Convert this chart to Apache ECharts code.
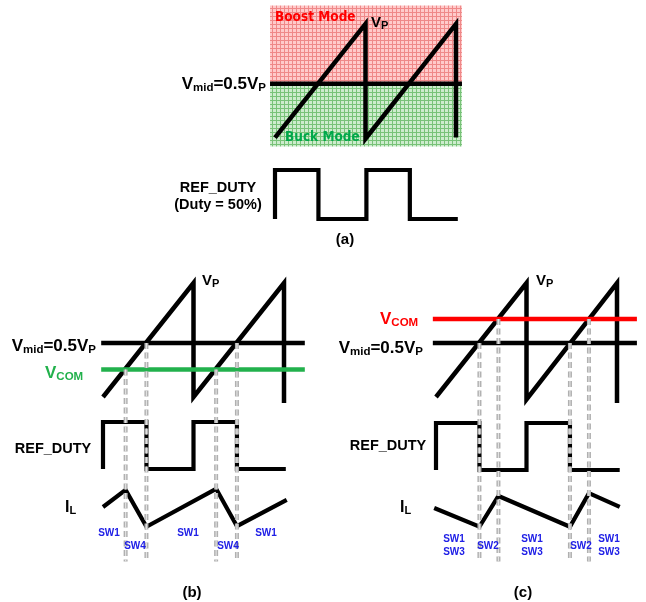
<!DOCTYPE html>
<html>
<head>
<meta charset="utf-8">
<script src="https://cdn.jsdelivr.net/npm/echarts@6/dist/echarts.min.js"></script>
<style>
  html, body { margin: 0; padding: 0; background: #ffffff; }
  #chart { width: 646px; height: 602px; }
</style>
</head>
<body>
<div id="chart"></div>
<script>
// ---- waveform data (time in ramp periods, voltages normalised to VP = 1) ----
const sawTimes = [0, 1, 1, 2, 2];
const sawA = [0.05, 1, 0.04, 1, 0.05];
const sawB = [0.05, 1, 0.05, 1, 0.0];
const sawC = [0.05, 1, 0.03, 1, 0.0];

const VMID = 0.5;          // Vmid = 0.5 VP
const VCOM_B = 0.28;       // VCOM below Vmid (buck side)
const VCOM_C = 0.70;       // VCOM above Vmid (boost side)

// horizontal reference lines: [start, end] time
const levelSpanA = [-0.055, 2.066];
const levelSpanB = [-0.02, 2.23];
const levelSpanC = [-0.035, 2.22];

// mode regions of the (a) ramp: [low, high] voltage
const boostBand = [VMID, 1.155];
const buckBand = [-0.025, VMID];

// REF_DUTY edges: rise, fall, rise, fall, end
const dutyEdgesA = [0, 0.48, 1.01, 1.49, 2.02];
const dutyEdgesB = [0, 0.48, 1.0, 1.48, 2.02];
const dutyEdgesC = [0, 0.48, 1.0, 1.48, 2.03];

// switching instants (comparator crossings)
const switchTimesB = [0.25, 0.48, 1.25, 1.48];
const switchLevelsB = [VCOM_B, VMID, VCOM_B, VMID];
const switchTimesC = [0.48, 0.69, 1.48, 1.69];
const switchLevelsC = [VMID, VCOM_C, VMID, VCOM_C];

// inductor current
const ilTimesB = [0, 0.25, 0.48, 1.25, 1.48, 2.03];
const ilB = [0.51, 0.82, 0.15, 0.84, 0.16, 0.64];
const ilTimesC = [-0.02, 0.48, 0.69, 1.48, 1.69, 2.03];
const ilC = [0.49, 0.15, 0.71, 0.15, 0.76, 0.51];

// switch-state captions
const swTextB = ['SW1', 'SW4', 'SW1', 'SW4', 'SW1'];
const swTextC = ['SW1\nSW3', 'SW2', 'SW1\nSW3', 'SW2', 'SW1\nSW3'];

// ---- layout ----
const P = 90.5;   // px per period
const U = 120;    // px per volt unit on ramp plots
const X_MIN = -0.1, X_MAX = 2.3;
const SAW_MIN = -1.35, SAW_MAX = 1.2;
const GUIDE_BOTTOM = -1.32;

const SANS = "'Liberation Sans', Arial, sans-serif";
const TAHOMA = "'DejaVu Sans Condensed', 'DejaVu Sans', sans-serif";
const BLACK = '#000000';
const GREEN = '#22b14c';
const RED = '#ff0000';
const BLUE = '#2020e6';

function gridAt(x0, top, height) {
  return { left: x0 + X_MIN * P, top: top, width: (X_MAX - X_MIN) * P, height: height };
}

const grids = [
  gridAt(275, 143 - SAW_MAX * U, (SAW_MAX - SAW_MIN) * U), // 0 (a) ramp
  gridAt(275, 170, 49),                                   // 1 (a) duty
  gridAt(103, 403 - SAW_MAX * U, (SAW_MAX - SAW_MIN) * U), // 2 (b) ramp
  gridAt(103, 422, 47),                                   // 3 (b) duty
  gridAt(103, 480, 55),                                   // 4 (b) IL
  gridAt(436, 403 - SAW_MAX * U, (SAW_MAX - SAW_MIN) * U), // 5 (c) ramp
  gridAt(436, 423, 47),                                   // 6 (c) duty
  gridAt(436, 480, 55)                                    // 7 (c) IL
];
const rampGrids = [0, 2, 5];

const xAxes = grids.map((g, i) => ({
  type: 'value', gridIndex: i, min: X_MIN, max: X_MAX, show: false
}));
const yAxes = grids.map((g, i) => (rampGrids.includes(i)
  ? { type: 'value', gridIndex: i, min: SAW_MIN, max: SAW_MAX, show: false }
  : { type: 'value', gridIndex: i, min: 0, max: 1, show: false }));

function line(idx, data, color, width, extra) {
  return Object.assign({
    type: 'line', xAxisIndex: idx, yAxisIndex: idx, data: data,
    symbol: 'none', showSymbol: false, silent: true, animation: false,
    clip: false, z: 2,
    lineStyle: { color: color, width: width, cap: 'butt', join: 'miter' }
  }, extra || {});
}
const zip = (xs, ys) => xs.map((x, i) => [x, ys[i]]);
function square(e) {
  return [[e[0], 0], [e[0], 1], [e[1], 1], [e[1], 0], [e[2], 0], [e[2], 1], [e[3], 1], [e[3], 0], [e[4], 0]];
}
function level(span, v) { return [[span[0], v], [span[1], v]]; }

// graph-paper fill for the mode regions
function paper(base, ink) {
  const c = document.createElement('canvas');
  c.width = 4; c.height = 4;
  const ctx = c.getContext('2d');
  ctx.fillStyle = base; ctx.fillRect(0, 0, 4, 4);
  ctx.fillStyle = ink; ctx.fillRect(0, 0, 4, 1); ctx.fillRect(0, 0, 1, 4);
  return { image: c, repeat: 'repeat' };
}

// dashed drop lines from each comparator crossing
function guides(idx, times, levels) {
  const out = [];
  times.forEach((t, i) => {
    const d = [[t, levels[i]], [t, GUIDE_BOTTOM]];
    out.push(line(idx, d, '#b0b0b0', 4, { z: 5, lineStyle: { color: '#b0b0b0', width: 4, type: [6, 3.5], cap: 'butt' } }));
    out.push(line(idx, d, '#e2e2e2', 1.2, { z: 6, lineStyle: { color: '#e2e2e2', width: 1.2, type: [6, 3.5], cap: 'butt' } }));
  });
  return out;
}

const series = [
  // (a)
  line(0, zip(sawTimes, sawA), BLACK, 4.5, {
    markArea: {
      silent: true,
      label: { show: false },
      data: [
        [{ xAxis: levelSpanA[0], yAxis: boostBand[1], itemStyle: { color: paper('#ffcaca', '#ef8888') } },
         { xAxis: levelSpanA[1], yAxis: boostBand[0] }],
        [{ xAxis: levelSpanA[0], yAxis: buckBand[1], itemStyle: { color: paper('#cdeccd', '#78c278') } },
         { xAxis: levelSpanA[1], yAxis: buckBand[0] }]
      ]
    }
  }),
  line(0, level(levelSpanA, VMID), BLACK, 4.5),
  line(1, square(dutyEdgesA), BLACK, 4.2),
  // (b)
  line(2, zip(sawTimes, sawB), BLACK, 4.5),
  line(2, level(levelSpanB, VMID), BLACK, 4.5),
  line(2, level(levelSpanB, VCOM_B), GREEN, 4.5, { z: 3 }),
  line(3, square(dutyEdgesB), BLACK, 4.2),
  line(4, zip(ilTimesB, ilB), BLACK, 4.2),
  // (c)
  line(5, zip(sawTimes, sawC), BLACK, 4.5),
  line(5, level(levelSpanC, VMID), BLACK, 4.5),
  line(5, level(levelSpanC, VCOM_C), RED, 4.5, { z: 3 }),
  line(6, square(dutyEdgesC), BLACK, 4.2),
  line(7, zip(ilTimesC, ilC), BLACK, 4.2)
].concat(guides(2, switchTimesB, switchLevelsB), guides(5, switchTimesC, switchLevelsC));

// ---- text ----
function richText(x, y, text, main, sub, align, fill) {
  return {
    type: 'text', x: x, y: y, z: 10, silent: true,
    style: {
      text: text, align: align, verticalAlign: 'middle', fill: fill || BLACK,
      rich: {
        m: { fontSize: main, fontWeight: 'bold', fontFamily: SANS, verticalAlign: 'bottom', lineHeight: main + 1, padding: [0, 0, 1, 0], fill: fill || BLACK },
        s: { fontSize: sub, fontWeight: 'bold', fontFamily: SANS, verticalAlign: 'bottom', lineHeight: sub + 2, fill: fill || BLACK }
      }
    }
  };
}
function plain(x, y, text, size, align, fill, family, lh) {
  return {
    type: 'text', x: x, y: y, z: 10, silent: true,
    style: {
      text: text, align: align, verticalAlign: 'middle', fill: fill || BLACK,
      fontSize: size, fontWeight: 'bold', fontFamily: family || SANS,
      lineHeight: lh || size + 2
    }
  };
}
const VMID_TXT = '{m|V}{s|mid}{m|=0.5V}{s|P}';
const VP_TXT = '{m|V}{s|P}';
const VCOM_TXT = '{m|V}{s|COM}';
const IL_TXT = '{m|I}{s|L}';

const swXB = [109, 135, 188, 228, 266];
const swXC = [454, 488, 532, 581, 609];

const graphics = [
  // (a)
  plain(275, 17, 'Boost Mode', 13.5, 'left', RED, TAHOMA),
  plain(285, 137, 'Buck Mode', 13.5, 'left', '#00a84a', TAHOMA),
  richText(371, 23, VP_TXT, 15, 11, 'left'),
  richText(266, 85, VMID_TXT, 17, 11.5, 'right'),
  plain(218, 196, 'REF_DUTY\n(Duty = 50%)', 14.5, 'center', BLACK, SANS, 17),
  plain(345, 240, '(a)', 15, 'center'),
  // (b)
  richText(202, 281, VP_TXT, 15, 11, 'left'),
  richText(96, 347, VMID_TXT, 17, 11.5, 'right'),
  richText(45, 374, VCOM_TXT, 17, 11.5, 'left', GREEN),
  plain(53, 449, 'REF_DUTY', 14.5, 'center'),
  richText(65, 508, IL_TXT, 16, 11, 'left'),
  plain(192, 593, '(b)', 15, 'center'),
  // (c)
  richText(536, 281, VP_TXT, 15, 11, 'left'),
  richText(380, 320, VCOM_TXT, 17, 11.5, 'left', RED),
  richText(423, 349, VMID_TXT, 17, 11.5, 'right'),
  plain(388, 446, 'REF_DUTY', 14.5, 'center'),
  richText(400, 508, IL_TXT, 16, 11, 'left'),
  plain(523, 593, '(c)', 15, 'center')
];
swTextB.forEach((t, i) => graphics.push(plain(swXB[i], i % 2 ? 546 : 533, t, 10, 'center', BLUE, SANS, 13)));
swTextC.forEach((t, i) => graphics.push(plain(swXC[i], i % 2 ? 546 : 545.5, t, 10, 'center', BLUE, SANS, 13)));

const chart = echarts.init(document.getElementById('chart'), null, { renderer: 'canvas' });
chart.setOption({
  animation: false,
  backgroundColor: '#ffffff',
  grid: grids,
  xAxis: xAxes,
  yAxis: yAxes,
  series: series,
  graphic: graphics
});
</script>
</body>
</html>
